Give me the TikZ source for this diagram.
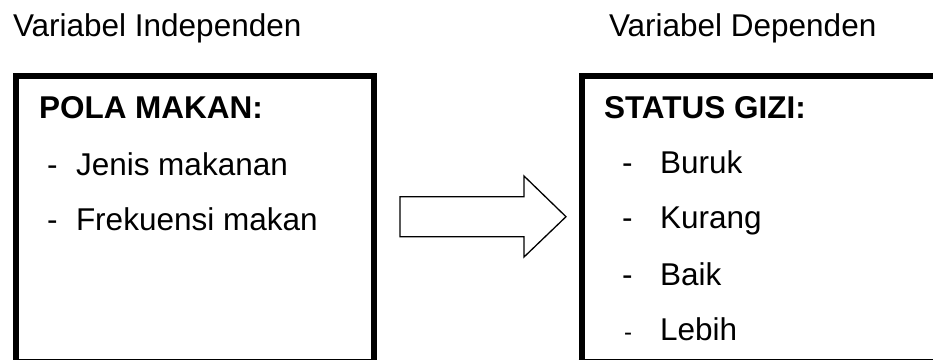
\documentclass[tikz,border=0pt]{standalone}
\usepackage{fontspec}
\setmainfont{Liberation Sans}
\begin{document}
\begin{tikzpicture}[x=1pt,y=-1pt,
  txt/.style={anchor=base west,inner sep=0pt,outer sep=0pt,font=\fontsize{31.5}{36}\selectfont},
  btxt/.style={txt,font=\fontsize{31.5}{36}\selectfont\bfseries},
  thick box/.style={line width=6pt,line join=miter,line cap=butt},
  thin edge/.style={line width=1.2pt},
  blockarrow/.style={line width=1.3pt,line join=miter}]
\useasboundingbox (0,0) rectangle (933,360);
% titles
\node[txt] (t1) at (13,36) {Variabel Independen};
\node[txt] (t2) at (609,36) {Variabel Dependen};
% left box
\draw[thick box] (16.3,359.5) -- (16.3,76.3) -- (374.3,76.3) -- (374.3,359.5);
\draw[thin edge] (13.3,359.5) -- (377.3,359.5);
\node[btxt] (h1) at (39,118) {POLA MAKAN:};
\node[txt] (d1) at (47,175) {-};
\node[txt] (i1) at (76,175) {Jenis makanan};
\node[txt] (d2) at (47,230) {-};
\node[txt] (i2) at (76,230) {Frekuensi makan};
% right box
\draw[thick box] (581.7,359.5) -- (581.7,76.3) -- (940,76.3);
\draw[thin edge] (578.7,359.5) -- (940,359.5);
\node[btxt] (h2) at (604,118) {STATUS GIZI:};
\node[txt] (d3) at (622,173.5) {-};
\node[txt] (j1) at (660,173.5) {Buruk};
\node[txt] (d4) at (622,228.5) {-};
\node[txt] (j2) at (660,228.5) {Kurang};
\node[txt] (d5) at (622,285) {-};
\node[txt] (j3) at (660,285) {Baik};
\node[txt,font=\fontsize{24}{28}\selectfont] (d6) at (624,340) {-};
\node[txt] (j4) at (660,340) {Lebih};
% block arrow
\draw[blockarrow] (400,196.7) -- (524,196.7) -- (524,176) -- (566,216.7)
  -- (524,257) -- (524,236.7) -- (400,236.7) -- cycle;
\end{tikzpicture}
\end{document}
